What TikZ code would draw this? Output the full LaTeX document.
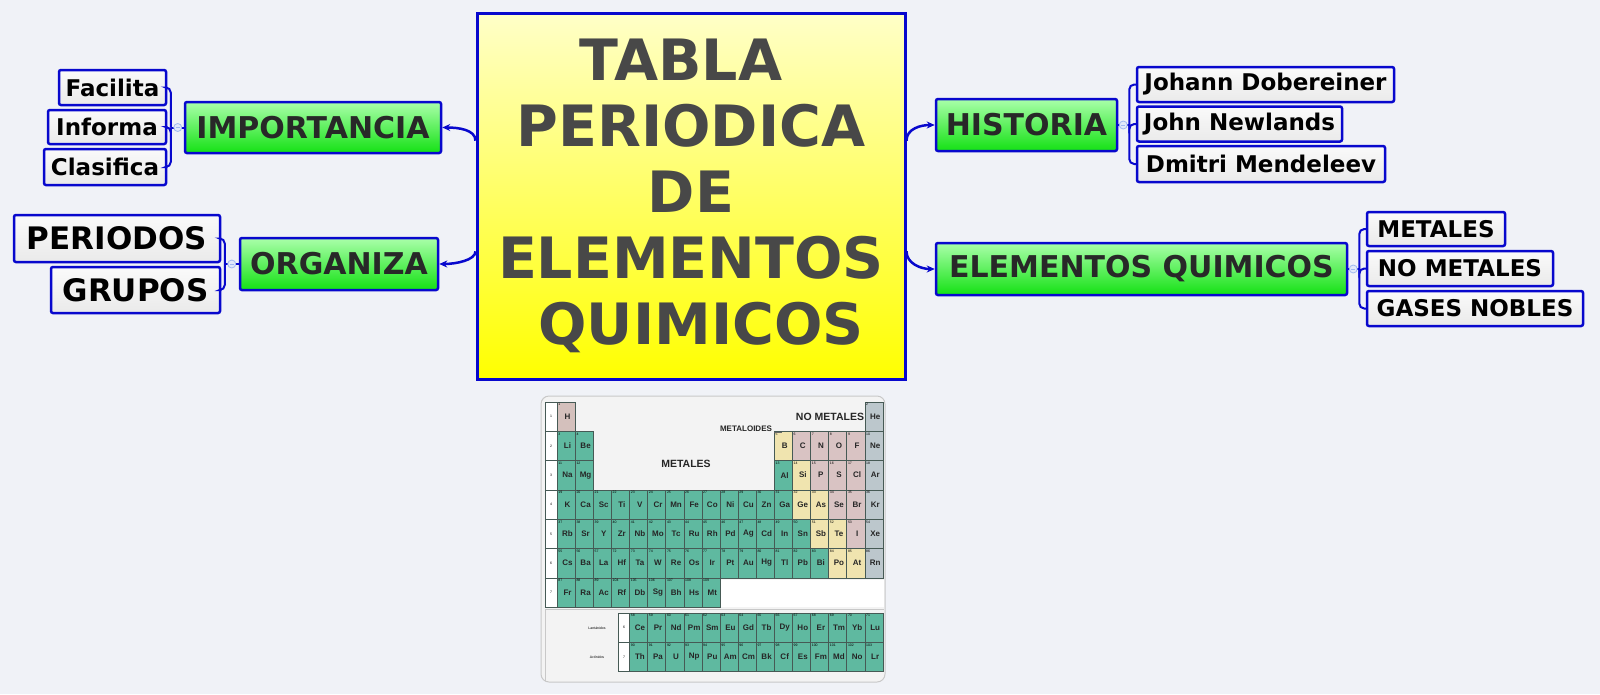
\documentclass[tikz,border=0pt]{standalone}
\usepackage{fontspec}
\setmainfont{DejaVu Sans}
\newfontfamily\ptfont{Liberation Sans}
\usetikzlibrary{arrows.meta,calc}

\definecolor{bgcol}{RGB}{240,242,247}
\definecolor{linkblue}{RGB}{8,8,205}
\definecolor{greentop}{RGB}{170,255,170}
\definecolor{greenbot}{RGB}{20,225,20}
\definecolor{yellowtop}{RGB}{255,255,200}
\definecolor{yellowbot}{RGB}{255,255,0}
\definecolor{titlegray}{RGB}{72,72,72}
\definecolor{topictext}{RGB}{40,40,40}
\definecolor{leaftop}{RGB}{250,250,250}
\definecolor{leafbot}{RGB}{234,234,234}
\definecolor{foldblue}{RGB}{160,185,240}
\definecolor{foldfill}{RGB}{225,233,250}
% tabla
\definecolor{framegray}{RGB}{200,200,200}
\definecolor{tablebg}{RGB}{243,243,243}
\definecolor{pmet}{RGB}{95,185,160}
\definecolor{pnon}{RGB}{217,195,195}
\definecolor{pmtd}{RGB}{240,228,175}
\definecolor{pgas}{RGB}{188,199,204}
\definecolor{phyd}{RGB}{212,192,188}
\definecolor{pline}{RGB}{70,90,85}

\tikzset{
  title/.style={draw=linkblue, line width=3pt, top color=yellowtop, bottom color=yellowbot,
    text=titlegray, font=\bfseries\fontsize{57}{66}\selectfont, align=center,
    inner sep=0pt, minimum width=428pt, minimum height=366pt},
  topic/.style={draw=linkblue, line width=2.5pt, rounded corners=2pt,
    top color=greentop, bottom color=greenbot, text=topictext,
    font=\bfseries\fontsize{30}{32}\selectfont, inner sep=0pt},
  leaf/.style={draw=linkblue, line width=2.5pt, rounded corners=2pt,
    top color=leaftop, bottom color=leafbot, text=black,
    font=\bfseries\fontsize{23}{25}\selectfont, inner sep=0pt},
  leafbig/.style={leaf, font=\bfseries\fontsize{31}{33}\selectfont},
  link/.style={draw=linkblue, line width=2.5pt},
  branch/.style={link, line width=2pt, rounded corners=5pt},
  tip/.style={-{Stealth[length=8pt,width=7pt]}},
  fold/.style={circle, draw=foldblue, fill=foldfill, line width=0.8pt,
    minimum size=8pt, inner sep=0pt,
    path picture={\draw[foldblue,line width=0.8pt]
      ([xshift=-2pt]path picture bounding box.center) --
      ([xshift=2pt]path picture bounding box.center);}},
  pcellbox/.style={draw=pline, line width=0.4pt},
  pnum/.style={font=\ptfont\fontsize{3.5}{3.5}\selectfont, anchor=north west, inner sep=0pt},
  psym/.style={font=\ptfont\bfseries\fontsize{8}{8}\selectfont, text=black!85, inner sep=0pt},
  plab/.style={font=\ptfont\fontsize{3.5}{4}\selectfont, inner sep=0pt},
  pnote/.style={font=\ptfont\bfseries\fontsize{10.5}{10.5}\selectfont, text=black!85, inner sep=0pt},
}

% una casilla de la tabla: columna, fila, numero, simbolo, color
\newcommand{\pel}[5]{%
  \pgfmathsetmacro\pelx{557+(#1-1)*18.1}%
  \pgfmathsetmacro\pely{402+(#2-1)*29.3}%
  \draw[pcellbox,fill=#5] (\pelx,\pely) rectangle ++(18.1,29.3);
  \node[pnum] (z-#4) at (\pelx+1.2,\pely+1.2) {#3};
  \node[psym] (e-#4) at (\pelx+10.5,\pely+14.5) {#4};
}

\begin{document}
\begin{tikzpicture}[x=1pt,y=-1pt]
\useasboundingbox (0,0) rectangle (1600,694);
\fill[bgcol] (0,0) rectangle (1600,694);

% centro
\node[title] (ctr) at (691,196) {TABLA\hspace*{0.35em}\\PERIODICA\hspace*{0.35em}\\DE\hspace*{0.35em}\\ELEMENTOS\\\hspace*{0.35em}QUIMICOS};

% ramas izquierda
\node[topic, minimum width=256pt, minimum height=51pt] (imp) at (313,127.5) {IMPORTANCIA};
\node[topic, minimum width=198pt, minimum height=52pt] (org) at (339,264) {ORGANIZA};
\node[leaf, minimum width=107pt, minimum height=35pt] (fac) at (112.5,87.5) {Facilita};
\node[leaf, minimum width=118pt, minimum height=34pt] (inf) at (107,127) {Informa};
\node[leaf, minimum width=122pt, minimum height=36pt] (cla) at (105,167) {Clasifica};
\node[leafbig, minimum width=206pt, minimum height=47pt] (per) at (117,238.5) {PERIODOS};
\node[leafbig, minimum width=169pt, minimum height=46pt] (gru) at (135.5,290) {GRUPOS};

% ramas derecha
\node[topic, minimum width=181pt, minimum height=52pt] (hist) at (1026.5,125) {HISTORIA};
\node[topic, minimum width=411pt, minimum height=52pt] (elem) at (1141.5,269) {ELEMENTOS QUIMICOS};
\node[leaf, minimum width=257pt, minimum height=35pt] (joh) at (1265.5,84.5) {Johann Dobereiner};
\node[leaf, minimum width=205pt, minimum height=35pt] (new) at (1239.5,124) {John Newlands};
\node[leaf, minimum width=248pt, minimum height=36pt] (men) at (1261,164) {Dmitri Mendeleev};
\node[leaf, minimum width=138pt, minimum height=34pt] (met) at (1436,229) {METALES};
\node[leaf, minimum width=186pt, minimum height=35pt] (nom) at (1460,268.5) {NO METALES};
\node[leaf, minimum width=216pt, minimum height=35pt] (gas) at (1475,308.5) {GASES NOBLES};

% flechas desde el centro
\draw[link,tip] ($(ctr.north west)!0.35!(ctr.south west)$) .. controls +(0,-11) and +(16,0) .. (imp.east);
\draw[link,tip] ($(ctr.north west)!0.65!(ctr.south west)$) .. controls +(0,9) and +(16,0) .. (org.east);
\draw[link,tip] ($(ctr.north east)!0.35!(ctr.south east)$) .. controls +(0,-12) and +(-14,0) .. (hist.west);
\draw[link,tip] ($(ctr.north east)!0.65!(ctr.south east)$) .. controls +(0,12) and +(-14,0) .. (elem.west);

% subramas
\coordinate (impj) at ($(imp.west)+(-13,0)$);
\draw[link,line width=2pt] (imp.west) -- (impj);
\foreach \k in {fac,inf,cla} \draw[branch] (impj) |- (\k.east);
\node[fold] (impf) at ($(imp.west)+(-6,0)$) {};

\coordinate (orgj) at ($(org.west)+(-14,0)$);
\draw[link,line width=2pt] (org.west) -- (orgj);
\foreach \k in {per,gru} \draw[branch] (orgj) |- (\k.east);
\node[fold] (orgf) at ($(org.west)+(-7,0)$) {};

\coordinate (histj) at ($(hist.east)+(11,0)$);
\draw[link,line width=2pt] (hist.east) -- (histj);
\foreach \k in {joh,new,men} \draw[branch] (histj) |- (\k.west);
\node[fold] (histf) at ($(hist.east)+(5,0)$) {};

\coordinate (elemj) at ($(elem.east)+(11,0)$);
\draw[link,line width=2pt] (elem.east) -- (elemj);
\foreach \k in {met,nom,gas} \draw[branch] (elemj) |- (\k.west);
\node[fold] (elemf) at ($(elem.east)+(5,0)$) {};

% tabla periodica
\draw[framegray, fill=tablebg, line width=1pt, rounded corners=8pt] (541,396) rectangle (885,682);
\fill[white] (720,580) rectangle (884,607);
\draw[framegray, line width=0.5pt] (545,609) -- (884,609);
\draw[framegray, line width=0.5pt] (545,609) -- (545,681);
\foreach \r in {1,...,7} {
  \draw[pcellbox, fill=white] (545,{402+(\r-1)*29.3}) rectangle ++(12,29.3);
  \node[plab] (p\r) at (551,{402+(\r-0.5)*29.3}) {\r};
}
\foreach \r/\q in {8.2/6,9.2/7} {
  \draw[pcellbox, fill=white] (618,{402+(\r-1)*29.3}) rectangle ++(12,29.3);
  \node[plab] (q\q) at (624,{402+(\r-0.5)*29.3}) {\q};
}
\node[plab] (lant) at (597,628) {Lantánidos};
\node[plab] (acti) at (597,657) {Actínidos};

\foreach \c/\zn/\s/\k in {1/1/H/phyd, 18/2/He/pgas} {\pel{\c}{1}{\zn}{\s}{\k}}
\foreach \c/\zn/\s/\k in {1/3/Li/pmet, 2/4/Be/pmet, 13/5/B/pmtd, 14/6/C/pnon, 15/7/N/pnon,
  16/8/O/pnon, 17/9/F/pnon, 18/10/Ne/pgas} {\pel{\c}{2}{\zn}{\s}{\k}}
\foreach \c/\zn/\s/\k in {1/11/Na/pmet, 2/12/Mg/pmet, 13/13/Al/pmet, 14/14/Si/pmtd, 15/15/P/pnon,
  16/16/S/pnon, 17/17/Cl/pnon, 18/18/Ar/pgas} {\pel{\c}{3}{\zn}{\s}{\k}}
\foreach \s [count=\i] in {K,Ca,Sc,Ti,V,Cr,Mn,Fe,Co,Ni,Cu,Zn,Ga}
  {\pgfmathtruncatemacro\zn{18+\i}\pel{\i}{4}{\zn}{\s}{pmet}}
\foreach \c/\zn/\s/\k in {14/32/Ge/pmtd, 15/33/As/pmtd, 16/34/Se/pnon, 17/35/Br/pnon, 18/36/Kr/pgas}
  {\pel{\c}{4}{\zn}{\s}{\k}}
\foreach \s [count=\i] in {Rb,Sr,Y,Zr,Nb,Mo,Tc,Ru,Rh,Pd,Ag,Cd,In,Sn}
  {\pgfmathtruncatemacro\zn{36+\i}\pel{\i}{5}{\zn}{\s}{pmet}}
\foreach \c/\zn/\s/\k in {15/51/Sb/pmtd, 16/52/Te/pmtd, 17/53/I/pnon, 18/54/Xe/pgas}
  {\pel{\c}{5}{\zn}{\s}{\k}}
\foreach \c/\zn/\s in {1/55/Cs, 2/56/Ba, 3/57/La} {\pel{\c}{6}{\zn}{\s}{pmet}}
\foreach \s [count=\i] in {Hf,Ta,W,Re,Os,Ir,Pt,Au,Hg,Tl,Pb,Bi}
  {\pgfmathtruncatemacro\zn{71+\i}\pgfmathtruncatemacro\zc{3+\i}\pel{\zc}{6}{\zn}{\s}{pmet}}
\foreach \c/\zn/\s/\k in {16/84/Po/pmtd, 17/85/At/pmtd, 18/86/Rn/pgas} {\pel{\c}{6}{\zn}{\s}{\k}}
\foreach \c/\zn/\s in {1/87/Fr, 2/88/Ra, 3/89/Ac} {\pel{\c}{7}{\zn}{\s}{pmet}}
\foreach \s [count=\i] in {Rf,Db,Sg,Bh,Hs,Mt}
  {\pgfmathtruncatemacro\zn{103+\i}\pgfmathtruncatemacro\zc{3+\i}\pel{\zc}{7}{\zn}{\s}{pmet}}
\foreach \s [count=\i] in {Ce,Pr,Nd,Pm,Sm,Eu,Gd,Tb,Dy,Ho,Er,Tm,Yb,Lu}
  {\pgfmathtruncatemacro\zn{57+\i}\pgfmathtruncatemacro\zc{4+\i}\pel{\zc}{8.2}{\zn}{\s}{pmet}}
\foreach \s [count=\i] in {Th,Pa,U,Np,Pu,Am,Cm,Bk,Cf,Es,Fm,Md,No,Lr}
  {\pgfmathtruncatemacro\zn{89+\i}\pgfmathtruncatemacro\zc{4+\i}\pel{\zc}{9.2}{\zn}{\s}{pmet}}

\node[pnote] (nomet) at (830,417) {NO METALES};
\node[pnote, font=\ptfont\bfseries\fontsize{8}{8}\selectfont] (mtd) at (746,429) {METALOIDES};
\node[pnote] (metl) at (686,464) {METALES};
\draw[black!60, line width=0.5pt] ([xshift=2pt]mtd.south east) -- (e-B.north west |- mtd.south east);
\end{tikzpicture}
\end{document}
